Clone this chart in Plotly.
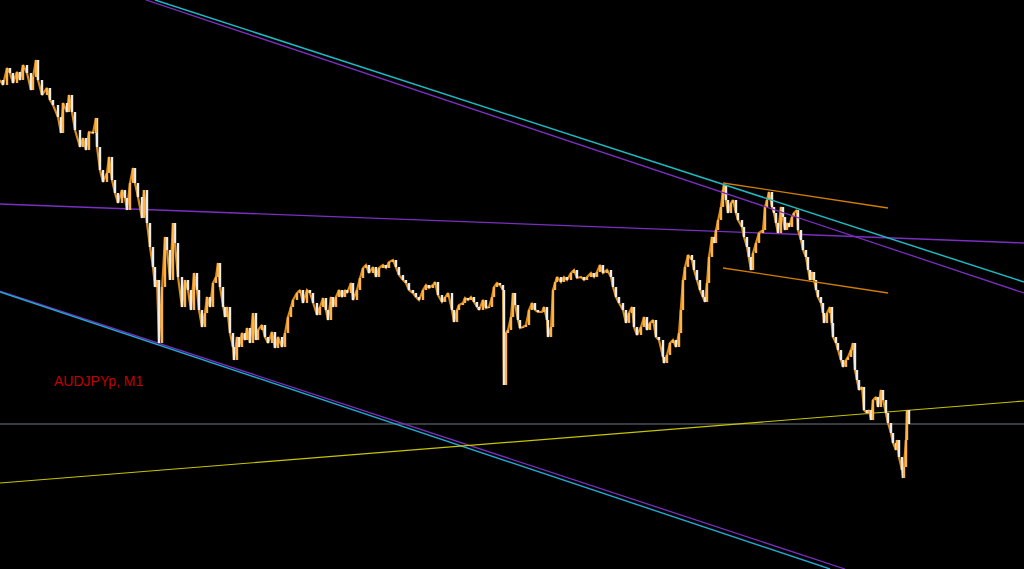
import plotly.graph_objects as go

# --- price data (AUDJPYp, M1), bar position and close price ---
bars = [
    0, 3, 7, 10, 13, 17, 20, 23, 27, 31,
    33, 36, 38, 42, 47, 50, 53, 58, 61, 63,
    67, 69, 72, 75, 80, 83, 86, 89, 93, 96,
    97, 100, 103, 107, 109, 112, 115, 118, 122, 125,
    127, 130, 133, 135, 138, 142, 144, 147, 150, 153,
    155, 157, 159, 162, 165, 167, 170, 173, 175, 178,
    182, 185, 188, 191, 194, 197, 199, 202, 205, 207,
    210, 213, 216, 218, 220, 223, 225, 227, 230, 233,
    234, 237, 239, 242, 245, 247, 250, 253, 256, 258,
    262, 265, 268, 272, 275, 278, 282, 285, 288, 291,
    293, 297, 300, 303, 307, 310, 313, 317, 320, 323,
    326, 328, 331, 333, 336, 339, 342, 345, 347, 351,
    353, 357, 360, 363, 366, 369, 373, 376, 379, 383,
    386, 389, 393, 396, 399, 403, 406, 409, 413, 416,
    419, 423, 426, 429, 433, 435, 438, 442, 445, 448,
    452, 454, 457, 459, 463, 465, 468, 471, 474, 477,
    479, 483, 486, 489, 492, 494, 497, 500, 503, 504,
    506, 508, 511, 513, 515, 518, 520, 523, 526, 529,
    532, 535, 538, 542, 544, 547, 548, 551, 553, 555,
    557, 561, 564, 567, 571, 574, 577, 581, 584, 587,
    591, 594, 597, 600, 603, 607, 611, 613, 616, 619,
    623, 626, 629, 632, 634, 637, 641, 644, 647, 650,
    653, 656, 659, 663, 664, 667, 670, 673, 676, 679,
    681, 683, 685, 688, 692, 694, 697, 700, 703, 705,
    707, 709, 712, 714, 716, 718, 721, 723, 724, 726,
    728, 731, 733, 736, 738, 742, 744, 747, 749, 751,
    753, 756, 759, 763, 765, 767, 769, 772, 774, 776,
    778, 781, 783, 785, 787, 789, 792, 794, 797, 798,
    801, 803, 806, 808, 810, 812, 814, 816, 818, 821,
    823, 824, 827, 830, 832, 833, 836, 838, 841, 843,
    846, 848, 851, 853, 855, 857, 859, 862, 864, 867,
    869, 871, 873, 876, 878, 881, 883, 886, 888, 891,
    893, 896, 897, 899, 902, 903, 904, 906, 907, 909,
]
close = [
    95.920, 95.915, 95.932, 95.927, 95.917, 95.928, 95.920, 95.935, 95.927, 95.910,
    95.923, 95.940, 95.920, 95.905, 95.912, 95.900, 95.895, 95.883, 95.867, 95.897,
    95.888, 95.905, 95.888, 95.870, 95.853, 95.862, 95.850, 95.868, 95.867, 95.882,
    95.853, 95.830, 95.818, 95.827, 95.843, 95.820, 95.807, 95.797, 95.810, 95.802,
    95.790, 95.817, 95.832, 95.817, 95.803, 95.782, 95.810, 95.777, 95.753, 95.733,
    95.713, 95.720, 95.657, 95.713, 95.763, 95.750, 95.720, 95.777, 95.757, 95.723,
    95.693, 95.720, 95.710, 95.690, 95.727, 95.710, 95.690, 95.673, 95.687, 95.703,
    95.693, 95.717, 95.723, 95.737, 95.713, 95.693, 95.683, 95.693, 95.667, 95.653,
    95.640, 95.663, 95.653, 95.667, 95.660, 95.672, 95.657, 95.687, 95.660, 95.670,
    95.675, 95.663, 95.657, 95.668, 95.652, 95.663, 95.653, 95.667, 95.683, 95.693,
    95.700, 95.707, 95.710, 95.697, 95.710, 95.707, 95.697, 95.685, 95.693, 95.702,
    95.690, 95.680, 95.703, 95.693, 95.703, 95.710, 95.703, 95.710, 95.707, 95.717,
    95.700, 95.710, 95.722, 95.732, 95.735, 95.727, 95.733, 95.723, 95.732, 95.735,
    95.732, 95.738, 95.740, 95.733, 95.725, 95.720, 95.717, 95.710, 95.707, 95.703,
    95.700, 95.710, 95.715, 95.712, 95.715, 95.718, 95.705, 95.698, 95.703, 95.707,
    95.690, 95.678, 95.690, 95.695, 95.697, 95.702, 95.700, 95.703, 95.698, 95.693,
    95.690, 95.700, 95.692, 95.693, 95.703, 95.713, 95.717, 95.715, 95.710, 95.615,
    95.667, 95.670, 95.683, 95.707, 95.695, 95.680, 95.672, 95.673, 95.675, 95.690,
    95.697, 95.690, 95.688, 95.688, 95.693, 95.680, 95.663, 95.673, 95.710, 95.718,
    95.723, 95.718, 95.723, 95.720, 95.727, 95.730, 95.722, 95.723, 95.720, 95.723,
    95.727, 95.723, 95.728, 95.735, 95.727, 95.730, 95.723, 95.713, 95.703, 95.697,
    95.690, 95.677, 95.687, 95.693, 95.673, 95.665, 95.673, 95.683, 95.670, 95.677,
    95.680, 95.663, 95.660, 95.643, 95.637, 95.645, 95.657, 95.660, 95.653, 95.667,
    95.690, 95.720, 95.733, 95.745, 95.740, 95.730, 95.720, 95.710, 95.703, 95.698,
    95.717, 95.743, 95.763, 95.757, 95.770, 95.780, 95.793, 95.810, 95.815, 95.800,
    95.787, 95.797, 95.800, 95.787, 95.780, 95.773, 95.763, 95.753, 95.743, 95.730,
    95.747, 95.757, 95.767, 95.770, 95.793, 95.800, 95.808, 95.793, 95.787, 95.777,
    95.767, 95.793, 95.783, 95.770, 95.777, 95.773, 95.783, 95.787, 95.790, 95.770,
    95.760, 95.750, 95.743, 95.730, 95.720, 95.728, 95.720, 95.710, 95.703, 95.697,
    95.687, 95.677, 95.687, 95.693, 95.677, 95.663, 95.657, 95.650, 95.640, 95.633,
    95.640, 95.643, 95.650, 95.657, 95.630, 95.620, 95.610, 95.613, 95.590, 95.587,
    95.590, 95.580, 95.600, 95.603, 95.593, 95.610, 95.600, 95.587, 95.577, 95.567,
    95.557, 95.550, 95.560, 95.543, 95.530, 95.522, 95.533, 95.560, 95.590, 95.576,
]

# trend lines: (bar0, price0, bar1, price1)
cyan_upper = [155, 96.000, 1024, 95.718]
purple_upper = [146, 96.000, 1024, 95.707]
purple_flat = [0, 95.796, 1024, 95.757]
purple_lower = [0, 95.709, 845, 95.431]
cyan_lower = [0, 95.708, 830, 95.431]
yellow_line = [0, 95.517, 1024, 95.599]
orange_top = [723, 95.817, 888, 95.792]
orange_bottom = [723, 95.732, 888, 95.707]
bid_price = 95.576

symbol_label = "AUDJPYp, M1"

X_RANGE = [0, 1024]
Y_RANGE = [95.431, 96.000]

n = min(len(bars), len(close))
up_x, up_y, dn_x, dn_y = [], [], [], []
for i in range(1, n):
    p0, p1 = close[i - 1], close[i]
    if p1 >= p0:
        up_x += [bars[i], bars[i], None]
        up_y += [p0, p1, None]
    else:
        dn_x += [bars[i], bars[i], None]
        dn_y += [p0, p1, None]

fig = go.Figure()


def add_line(seg, color, width=1.2):
    fig.add_trace(go.Scatter(x=[seg[0], seg[2]], y=[seg[1], seg[3]], mode="lines",
                             line=dict(color=color, width=width), hoverinfo="skip",
                             showlegend=False))


add_line([0, bid_price, 1024, bid_price], "#4a4f55", 1.5)
add_line(purple_flat, "#7a2fc0", 1.3)
add_line(purple_lower, "#7a2fc0", 1.3)
add_line(cyan_lower, "#1fa9d0", 1.4)
add_line(yellow_line, "#c8c400", 1.2)

# connecting path underneath the bars
fig.add_trace(go.Scatter(x=bars[:n], y=close[:n], mode="lines",
                         line=dict(color="#d98a1c", width=2.2), hoverinfo="skip",
                         showlegend=False))
fig.add_trace(go.Scatter(x=dn_x, y=dn_y, mode="lines", line=dict(color="#ececec", width=2.4),
                         hoverinfo="skip", showlegend=False))
fig.add_trace(go.Scatter(x=up_x, y=up_y, mode="lines", line=dict(color="#ffb347", width=2.4),
                         hoverinfo="skip", showlegend=False))

add_line(purple_upper, "#7a2fc0", 1.3)
add_line(cyan_upper, "#1fb8c0", 1.5)
add_line(orange_top, "#d07d00", 1.3)
add_line(orange_bottom, "#d07d00", 1.3)

fig.add_annotation(x=52, y=95.619, text=symbol_label, showarrow=False, xanchor="left",
                   yanchor="middle", font=dict(family="Arial, Liberation Sans", size=14,
                                               color="#c00000"))

fig.update_layout(
    width=1024, height=569, margin=dict(l=0, r=0, t=0, b=0),
    paper_bgcolor="black", plot_bgcolor="black", showlegend=False,
    xaxis=dict(range=X_RANGE, visible=False, showgrid=False, zeroline=False),
    yaxis=dict(range=Y_RANGE, visible=False, showgrid=False, zeroline=False),
)

fig.write_html("out.html", config={"displayModeBar": False},
               post_script="document.body.style.margin='0';document.body.style.background='black';")
